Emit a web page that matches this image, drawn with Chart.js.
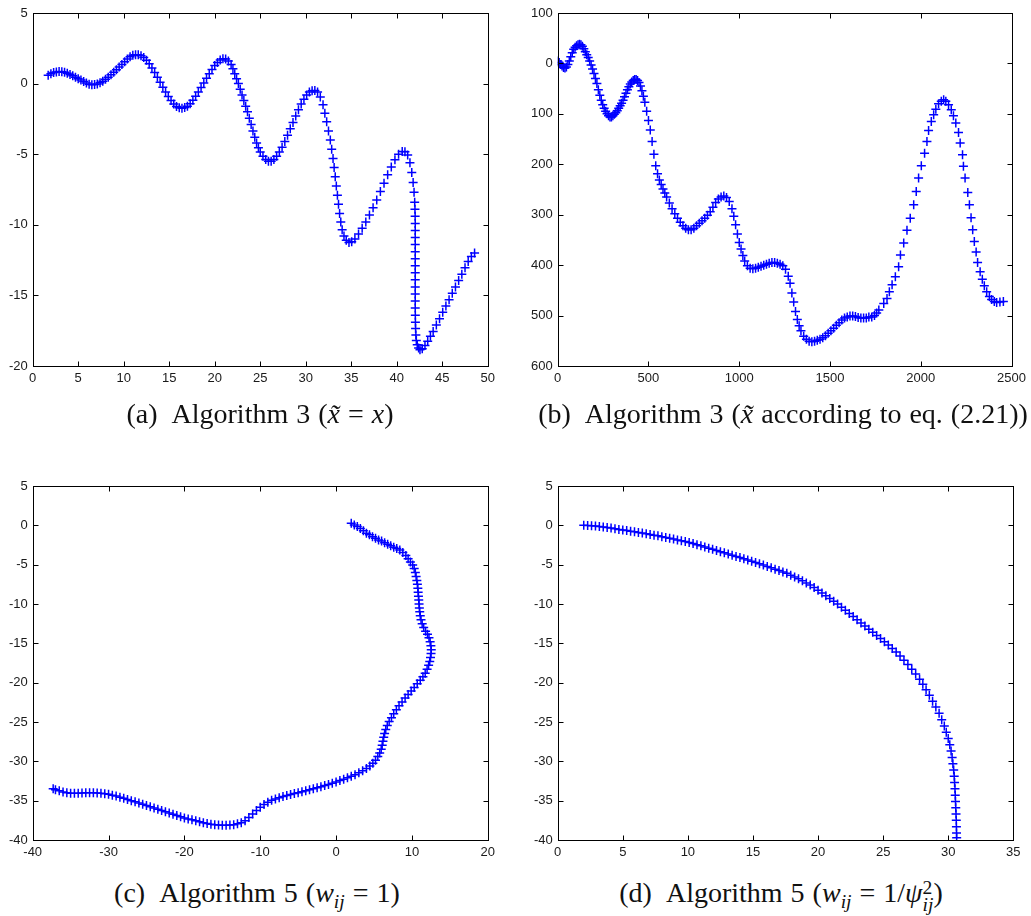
<!DOCTYPE html>
<html>
<head>
<meta charset="utf-8">
<script src="https://cdn.jsdelivr.net/npm/chart.js@4"></script>
<style>
  body { margin: 0; background: #fff; width: 1031px; height: 916px; position: relative; overflow: hidden; }
  .panel { position: absolute; }
  .cap {
    position: absolute; text-align: center; white-space: nowrap;
    font-family: 'Liberation Serif', 'Times New Roman', serif; font-size: 28px; line-height: 32px;
    word-spacing: 1px; color: #111; z-index: 2;
  }
  .cap i { font-style: italic; }
  .cap sub { font-size: 0.7em; vertical-align: -0.3em; line-height: 0; }
  .ss { display: inline-block; vertical-align: -0.45em; line-height: 0.85; font-size: 0.7em; text-align: left; }
  .ss span { display: block; }
</style>
</head>
<body>
<div class="panel" style="left:0;top:0"><canvas id="ca" width="500" height="400"></canvas></div>
<div class="panel" style="left:520px;top:0"><canvas id="cb" width="511" height="400"></canvas></div>
<div class="panel" style="left:0;top:473px"><canvas id="cc" width="500" height="400"></canvas></div>
<div class="panel" style="left:520px;top:473px"><canvas id="cd" width="511" height="400"></canvas></div>

<div class="cap" style="left:0;top:398px;width:520px">(a)&ensp;Algorithm 3 (<i>x&#771;</i> = <i>x</i>)</div>
<div class="cap" style="left:533px;top:398px;width:500px">(b)&ensp;Algorithm 3 (<i>x&#771;</i> according to eq. (2.21))</div>
<div class="cap" style="left:0;top:877px;width:514px">(c)&ensp;Algorithm 5 (<i>w</i><sub><i>ij</i></sub> = 1)</div>
<div class="cap" style="left:531px;top:877px;width:500px">(d)&ensp;Algorithm 5 (<i>w</i><sub><i>ij</i></sub> = 1/<i>&psi;</i><span class="ss"><span>2</span><span><i>ij</i></span></span>)</div>

<script>
// (a) Algorithm 3, x~ = x
const aX = [1.7,2.0,2.3,2.6,2.9,3.2,3.5,3.8,4.1,4.4,4.7,5.0,5.3,5.6,5.9,6.2,6.5,6.8,
  7.1,7.4,7.7,8.0,8.3,8.6,8.9,9.2,9.5,9.8,10.1,10.4,10.7,11.0,11.3,11.6,11.9,
  12.2,12.5,12.8,13.1,13.4,13.7,14.0,14.3,14.6,14.9,15.2,15.5,15.8,16.1,16.4,16.7,17.0,
  17.3,17.6,17.9,18.2,18.5,18.8,19.1,19.4,19.7,20.0,20.3,20.6,20.9,21.2,21.5,
  21.8,22.0,22.2,22.4,22.6,22.8,23.0,23.2,23.4,23.6,23.8,24.0,24.2,24.4,24.6,24.8,25.0,25.3,25.6,25.9,26.2,26.5,
  26.8,27.1,27.4,27.7,28.0,28.3,28.6,28.9,29.2,29.5,29.8,30.1,30.4,30.7,31.0,31.3,
  31.6,31.9,32.1,32.3,32.5,32.7,32.85,33.0,33.12,33.24,33.36,33.48,33.6,33.72,33.85,34.0,34.2,34.45,34.75,35.05,
  35.4,35.8,36.2,36.6,37.0,37.4,37.8,38.2,38.6,39.0,39.4,39.8,40.2,40.6,40.9,
  41.2,41.45,41.65,41.8,41.9,41.97,42.0,42.02,42.03,42.03,42.03,42.03,42.03,42.03,42.03,42.03,42.03,42.03,42.03,42.03,42.03,
  42.04,42.05,42.07,42.1,42.15,42.25,42.4,42.55,
  42.8,43.1,43.4,43.7,44.0,44.35,44.7,45.05,45.4,45.75,46.1,46.45,46.8,47.15,47.5,47.85,48.2,48.55];
const aY = [0.6,0.7,0.78,0.83,0.85,0.84,0.8,0.73,0.64,0.55,0.45,0.35,0.25,0.15,0.05,-0.05,-0.08,-0.07,
  -0.02,0.06,0.17,0.3,0.45,0.62,0.8,0.98,1.17,1.35,1.55,1.75,1.9,2.0,2.05,2.05,1.98,
  1.85,1.65,1.4,1.1,0.78,0.45,0.1,-0.25,-0.6,-0.92,-1.2,-1.45,-1.62,-1.71,-1.74,-1.7,-1.6,
  -1.42,-1.18,-0.9,-0.6,-0.28,0.05,0.38,0.7,1.0,1.28,1.5,1.67,1.76,1.74,1.6,
  1.35,1.05,0.7,0.35,0.0,-0.4,-0.8,-1.2,-1.6,-2.0,-2.45,-2.9,-3.35,-3.8,-4.2,-4.55,-4.85,-5.15,-5.38,-5.5,-5.5,-5.38,
  -5.15,-4.85,-4.5,-4.1,-3.65,-3.2,-2.75,-2.3,-1.85,-1.45,-1.1,-0.8,-0.6,-0.5,-0.48,-0.6,
  -0.95,-1.5,-2.1,-2.7,-3.35,-4.0,-4.65,-5.3,-5.95,-6.6,-7.25,-7.9,-8.55,-9.2,-9.8,-10.35,-10.8,-11.1,-11.25,-11.2,
  -11.0,-10.65,-10.25,-9.8,-9.3,-8.8,-8.25,-7.65,-7.05,-6.45,-5.9,-5.4,-5.0,-4.8,-4.82,
  -5.05,-5.6,-6.3,-7.0,-7.7,-8.4,-8.9,-9.4,-9.9,-10.4,-10.9,-11.4,-11.9,-12.4,-12.9,-13.4,-13.9,-14.4,-14.9,-15.4,-15.9,
  -16.4,-16.9,-17.35,-17.8,-18.2,-18.5,-18.72,-18.85,
  -18.78,-18.55,-18.25,-17.9,-17.55,-17.1,-16.65,-16.2,-15.75,-15.3,-14.85,-14.4,-13.95,-13.5,-13.05,-12.6,-12.25,-12.0];

// (b) Algorithm 3, x~ from eq. (2.21)
const bX = [0,8,16,24,32,40,48,56,64,72,80,88,96,104,112,120,128,136,144,152,160,168,176,184,192,200,
  208,216,224,232,240,248,256,264,272,280,288,296,304,312,320,328,336,344,352,360,368,376,384,392,400,
  408,416,424,432,440,448,456,464,472,480,490,500,510,520,530,540,550,560,570,580,590,600,
  615,630,645,660,675,690,705,720,735,750,765,780,795,810,825,840,855,870,885,900,915,930,945,
  960,970,980,990,1000,1010,1020,1030,1045,1060,1075,1090,1105,1120,1135,1150,1165,1180,1195,1210,1225,1240,
  1255,1270,1280,1290,1300,1310,1320,1330,1340,1355,1370,1385,1400,1415,1430,1445,1460,1475,1490,1505,
  1520,1535,1550,1565,1580,1595,1610,1625,1640,1655,1670,1685,1700,1714,1730,1745,1757,1769,
  1796,1814,1827,1842,1860,1878,1888,1906,1924,1942,1961,1975,1988,2003,2021,2034,2043,2058,2071,2083,
  2098,2113,2126,2138,2153,2168,2180,2193,2208,2217,2230,2235,2244,2259,2268,2277,2286,2295,2305,2313,
  2327,2339,2350,2363,2378,2390,2405,2418,2436,2455];
const bY = [-5,-2,2,5,8,9,7,2,-5,-13,-21,-28,-32,-35,-37,-38,-37,-34,-29,-23,-17,-12,-5,3,11,20,
  30,40,52,63,73,82,89,95,100,104,106,106,104,101,98,94,89,84,79,73,66,59,52,46,41,
  37,34,32,32,34,38,45,54,65,77,95,113,132,155,180,203,219,231,240,249,257,265,
  277,288,298,307,315,322,327,330,330,327,322,317,312,307,301,294,285,276,269,265,263,266,274,
  288,303,320,338,355,368,381,392,401,406,407,406,404,402,400,398,396,395,395,396,398,401,
  408,422,436,455,473,492,508,520,530,541,547,551,552,551,549,547,544,540,535,530,
  525,519,514,509,505,503,501,501,502,504,505,505,505,503,503,500,495,489,
  476,466,453,439,423,403,380,356,331,307,280,254,227,203,178,155,133,115,102,91,
  80,75,72,75,82,92,104,118,137,158,181,204,227,256,280,306,330,353,374,395,
  413,428,441,453,462,468,472,474,473,472];

// (c) Algorithm 5, w_ij = 1
const cX = [2.0,2.4,2.8,3.2,3.6,4.0,4.4,4.8,5.2,5.6,6.0,6.4,6.8,7.2,7.6,8.0,8.4,8.8,9.2,9.5,9.8,10.1,
  10.3,10.45,10.55,10.65,10.72,10.78,10.82,10.86,10.9,10.94,10.98,11.03,11.1,11.2,11.35,11.55,11.8,12.05,
  12.25,12.4,12.5,12.55,12.52,12.45,12.35,12.2,12.0,11.75,11.45,11.1,10.7,10.3,9.9,9.5,9.1,8.7,8.3,
  7.95,7.6,7.3,7.0,6.75,6.55,6.4,6.28,6.18,6.08,5.95,5.75,5.5,5.2,4.85,4.45,4.0,3.5,3.0,2.5,2.0,
  1.5,1.0,0.5,0.0,-0.5,-1.0,-1.5,-2.0,-2.5,-3.0,-3.5,-4.0,-4.5,-5.0,-5.5,-6.0,-6.5,-7.0,-7.5,-8.0,
  -8.5,-9.0,-9.5,-10.0,-10.5,-11.0,-11.5,-12.0,-12.5,-13.0,-13.5,-14.0,-14.5,-15.0,-15.5,-16.0,-16.5,
  -17.0,-17.5,-18.0,-18.5,-19.0,-19.5,-20.0,-20.5,-21.0,-21.5,-22.0,-22.5,-23.0,-23.5,-24.0,-24.5,
  -25.0,-25.5,-26.0,-26.5,-27.0,-27.5,-28.0,-28.5,-29.0,-29.5,-30.0,-30.5,-31.0,-31.5,-32.0,-32.5,
  -33.0,-33.5,-34.0,-34.5,-35.0,-35.5,-36.0,-36.5,-37.0,-37.3];
const cY = [0.25,0.05,-0.15,-0.4,-0.7,-1.0,-1.2,-1.45,-1.65,-1.85,-2.0,-2.2,-2.4,-2.6,-2.78,-2.95,-3.15,-3.45,-3.85,-4.25,-4.65,-5.05,
  -5.5,-6.0,-6.5,-7.0,-7.5,-8.0,-8.5,-9.0,-9.5,-10.0,-10.5,-11.0,-11.5,-12.0,-12.5,-13.0,-13.45,-13.85,
  -14.3,-14.8,-15.3,-15.8,-16.3,-16.8,-17.3,-17.8,-18.3,-18.8,-19.25,-19.7,-20.15,-20.6,-21.05,-21.5,-21.95,-22.45,-22.95,
  -23.45,-23.95,-24.45,-24.95,-25.45,-25.95,-26.45,-26.95,-27.45,-27.95,-28.45,-28.95,-29.4,-29.85,-30.25,-30.6,-30.92,-31.2,-31.45,-31.7,-31.9,
  -32.1,-32.28,-32.45,-32.62,-32.78,-32.94,-33.08,-33.22,-33.36,-33.5,-33.62,-33.74,-33.86,-33.98,-34.1,-34.22,-34.35,-34.48,-34.62,-34.78,
  -34.96,-35.2,-35.5,-35.85,-36.25,-36.7,-37.15,-37.55,-37.8,-37.95,-38.05,-38.1,-38.12,-38.12,-38.1,-38.05,-38.0,
  -37.9,-37.8,-37.68,-37.56,-37.44,-37.32,-37.2,-37.05,-36.9,-36.74,-36.58,-36.42,-36.26,-36.1,-35.94,-35.78,
  -35.62,-35.46,-35.3,-35.15,-35.0,-34.85,-34.7,-34.56,-34.42,-34.3,-34.2,-34.12,-34.06,-34.02,-34.0,-34.0,
  -34.0,-34.02,-34.05,-34.06,-34.05,-34.0,-33.9,-33.75,-33.6,-33.5];

// (d) Algorithm 5, w_ij = 1/psi_ij^2
const dX = [2.0,2.3,2.6,2.9,3.2,3.5,3.8,4.1,4.4,4.7,5.0,5.3,5.6,5.9,6.2,6.5,6.8,7.1,7.4,7.7,8.0,8.3,8.6,8.9,
  9.2,9.5,9.8,10.1,10.4,10.7,11.0,11.3,11.6,11.9,12.2,12.5,12.8,13.1,13.4,13.7,14.0,14.3,14.6,14.9,
  15.2,15.5,15.8,16.1,16.4,16.7,17.0,17.3,17.6,17.9,18.2,18.5,18.8,19.1,19.4,19.7,20.0,20.3,20.6,20.9,
  21.2,21.5,21.8,22.1,22.4,22.7,23.0,23.3,23.6,23.9,24.2,24.5,24.8,25.1,25.4,25.7,26.0,26.3,26.6,26.9,
  27.2,27.5,27.8,28.05,28.3,28.55,28.8,29.05,29.3,29.5,29.7,29.85,30.0,30.12,30.22,30.3,30.36,30.42,
  30.46,30.49,30.52,30.54,30.56,30.58,30.6,30.62,30.63,30.64,30.65];
const dY = [0.0,-0.02,-0.05,-0.1,-0.15,-0.2,-0.26,-0.33,-0.42,-0.52,-0.6,-0.66,-0.74,-0.82,-0.9,-0.98,-1.07,-1.16,-1.25,-1.34,-1.44,-1.54,-1.64,-1.74,
  -1.85,-1.96,-2.06,-2.18,-2.32,-2.46,-2.6,-2.75,-2.9,-3.05,-3.2,-3.35,-3.5,-3.65,-3.8,-3.95,-4.1,-4.25,-4.4,-4.56,
  -4.72,-4.88,-5.05,-5.22,-5.4,-5.57,-5.75,-5.93,-6.1,-6.33,-6.56,-6.8,-7.06,-7.32,-7.6,-7.9,-8.25,-8.6,-8.95,-9.3,
  -9.65,-10.0,-10.4,-10.8,-11.2,-11.6,-12.0,-12.4,-12.8,-13.2,-13.6,-14.0,-14.4,-14.8,-15.2,-15.65,-16.1,-16.6,-17.15,-17.7,
  -18.3,-18.9,-19.55,-20.2,-20.9,-21.6,-22.35,-23.1,-23.9,-24.7,-25.5,-26.3,-27.1,-27.9,-28.7,-29.5,-30.3,-31.1,
  -31.9,-32.7,-33.5,-34.3,-35.1,-35.9,-36.7,-37.5,-38.3,-39.1,-39.7];

// axis ticks and their labels
const aXTicks = [0,5,10,15,20,25,30,35,40,45,50];
const aXLabels = ['0','5','10','15','20','25','30','35','40','45','50'];
const aYTicks = [-20,-15,-10,-5,0,5];
const aYLabels = ['-20','-15','-10','-5','0','5'];
const bXTicks = [0,500,1000,1500,2000,2500];
const bXLabels = ['0','500','1000','1500','2000','2500'];
const bYTicks = [-100,0,100,200,300,400,500,600];
const bYLabels = ['100','0','100','200','300','400','500','600'];
const cXTicks = [-40,-30,-20,-10,0,10,20];
const cXLabels = ['-40','-30','-20','-10','0','10','20'];
const cYTicks = [-40,-35,-30,-25,-20,-15,-10,-5,0,5];
const cYLabels = ['-40','-35','-30','-25','-20','-15','-10','-5','0','5'];
const dXTicks = [0,5,10,15,20,25,30,35];
const dXLabels = ['0','5','10','15','20','25','30','35'];
const dYTicks = cYTicks;
const dYLabels = cYLabels;

const tickFont = { family: "'Liberation Sans', Arial, sans-serif", size: 13 };

function axis(ticks, labels, fit, extra) {
  return Object.assign({
    type: 'linear',
    min: ticks[0],
    max: ticks[ticks.length - 1],
    afterBuildTicks: s => { s.ticks = ticks.map(v => ({ value: v })); },
    afterFit: fit,
    ticks: {
      autoSkip: false, maxRotation: 0, padding: 5, color: '#1a1a1a', font: tickFont,
      callback: (v, i) => labels[i]
    },
    grid: { display: false, drawTicks: false },
    border: { display: false }
  }, extra || {});
}

// black frame with short inward tick marks on all four sides
const frame = {
  id: 'frame',
  afterDraw(chart) {
    const { ctx, chartArea: a, scales } = chart;
    const L = Math.round(a.left) + 0.5, R = Math.round(a.right) + 0.5;
    const T = Math.round(a.top) + 0.5, B = Math.round(a.bottom) + 0.5;
    ctx.save();
    ctx.strokeStyle = '#000';
    ctx.lineWidth = 1;
    ctx.beginPath();
    scales.x.ticks.forEach(t => {
      const p = Math.round(scales.x.getPixelForValue(t.value)) + 0.5;
      ctx.moveTo(p, B); ctx.lineTo(p, B - 5);
      ctx.moveTo(p, T); ctx.lineTo(p, T + 5);
    });
    scales.y.ticks.forEach(t => {
      const p = Math.round(scales.y.getPixelForValue(t.value)) + 0.5;
      ctx.moveTo(L, p); ctx.lineTo(L + 5, p);
      ctx.moveTo(R, p); ctx.lineTo(R - 5, p);
    });
    ctx.stroke();
    ctx.strokeRect(L, T, R - L, B - T);
    ctx.restore();
  }
};

function panel(id, xs, ys, xAxis, yAxis, pad) {
  new Chart(document.getElementById(id), {
    type: 'scatter',
    data: {
      datasets: [{
        data: xs.map((x, i) => ({ x: x, y: ys[i] })),
        pointStyle: 'cross',
        pointRadius: 4.5,
        pointBorderWidth: 1.5,
        borderColor: '#0000ff',
        backgroundColor: '#0000ff'
      }]
    },
    options: {
      responsive: false,
      animation: false,
      events: [],
      layout: { padding: pad },
      plugins: { legend: { display: false }, tooltip: { enabled: false } },
      scales: { x: xAxis, y: yAxis }
    },
    plugins: [frame]
  });
}

const xh = h => s => { s.height = h; };
const yw = w => s => { s.width = w; };

panel('ca', aX, aY,
  axis(aXTicks, aXLabels, xh(34)),
  axis(aYTicks, aYLabels, yw(32.7)),
  { left: 0, top: 13, right: 11.7, bottom: 0 });

panel('cb', bX, bY,
  axis(bXTicks, bXLabels, xh(34)),
  axis(bYTicks, bYLabels, yw(37.7), { reverse: true }),
  { left: 0, top: 13, right: 17.7, bottom: 0 });

panel('cc', cX, cY,
  axis(cXTicks, cXLabels, xh(33)),
  axis(cYTicks, cYLabels, yw(32.7)),
  { left: 0, top: 13, right: 11.7, bottom: 0 });

panel('cd', dX, dY,
  axis(dXTicks, dXLabels, xh(33)),
  axis(dYTicks, dYLabels, yw(37.7)),
  { left: 0, top: 13, right: 17.7, bottom: 0 });
</script>
</body>
</html>
